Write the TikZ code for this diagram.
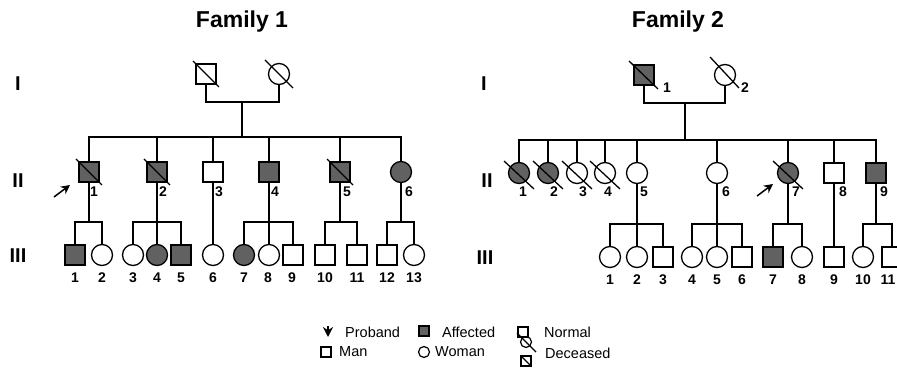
\documentclass[tikz,border=0pt]{standalone}
\usepackage{fontspec}
\setmainfont{Liberation Sans}
\usetikzlibrary{arrows.meta}
\begin{document}
\begin{tikzpicture}[x=1pt,y=-1pt,
  male/.style={draw,rectangle,minimum size=20pt,inner sep=0pt,line width=1.3pt},
  female/.style={draw,circle,minimum size=21pt,inner sep=0pt,line width=1.3pt},
  aff/.style={fill=black!62},
  ln/.style={line width=1.3pt},
  num/.style={font=\bfseries\fontsize{14}{14}\selectfont, inner sep=0pt},
  gen/.style={font=\bfseries\fontsize{20}{20}\selectfont, inner sep=0pt},
  ttl/.style={font=\bfseries\fontsize{23}{23}\selectfont, inner sep=0pt},
  leg/.style={font=\fontsize{14.5}{14.5}\selectfont, inner sep=0pt, anchor=west},
  pb/.style={-{Stealth[length=9pt,width=9pt]}, line width=1.5pt},
  lsym/.style={draw,rectangle,minimum size=10pt,inner sep=0pt,line width=1.2pt},
  lcirc/.style={draw,circle,minimum size=11pt,inner sep=0pt,line width=1.2pt}
]
\clip (0,0) rectangle (897,387);

% ---------- titles and generation labels
\node[ttl] (t1) at (242,22) {Family 1};
\node[ttl] (t2) at (678,22) {Family 2};
\node[gen] (g1a) at (18,84) {I};
\node[gen] (g1b) at (18,181) {II};
\node[gen] (g1c) at (18,256) {III};
\node[gen] (g2a) at (484,84) {I};
\node[gen] (g2b) at (487,181) {II};
\node[gen] (g2c) at (485,258) {III};

% ================= Family 1
\node[male] (A1) at (206,74) {};
\node[female] (A2) at (279,74) {};
\coordinate (c1) at (242,102);
\coordinate (s1) at (242,137);
\draw[ln] (A1.south) |- (c1);
\draw[ln] (A2.south) |- (c1);
\draw[ln] (c1) -- (s1);

\node[male,aff] (B1) at (89,172) {};
\node[male,aff] (B2) at (157,172) {};
\node[male] (B3) at (213,172) {};
\node[male,aff] (B4) at (269,172) {};
\node[male,aff] (B5) at (340,172) {};
\node[female,aff] (B6) at (401,172) {};
\foreach \n in {B1,B2,B3,B4,B5,B6} \draw[ln] (\n.north) |- (s1);

\node[male,aff] (C1) at (75,255) {};
\node[female] (C2) at (102,255) {};
\node[female] (C3) at (133,255) {};
\node[female,aff] (C4) at (157,255) {};
\node[male,aff] (C5) at (181,255) {};
\node[female] (C6) at (213,255) {};
\node[female,aff] (C7) at (244,255) {};
\node[female] (C8) at (269,255) {};
\node[male] (C9) at (293,255) {};
\node[male] (C10) at (325,255) {};
\node[male] (C11) at (357,255) {};
\node[male] (C12) at (387,255) {};
\node[female] (C13) at (414,255) {};

\coordinate (b1) at (89,222);
\coordinate (b2) at (157,222);
\coordinate (b4) at (269,222);
\coordinate (b5) at (340,222);
\coordinate (b6) at (401,222);
\draw[ln] (B1.south) -- (b1);
\draw[ln] (C1.north) |- (b1); \draw[ln] (C2.north) |- (b1);
\draw[ln] (B2.south) -- (b2);
\draw[ln] (C3.north) |- (b2); \draw[ln] (C4.north) -- (b2); \draw[ln] (C5.north) |- (b2);
\draw[ln] (B3.south) -- (C6.north);
\draw[ln] (B4.south) -- (b4);
\draw[ln] (C7.north) |- (b4); \draw[ln] (C8.north) -- (b4); \draw[ln] (C9.north) |- (b4);
\draw[ln] (B5.south) -- (b5);
\draw[ln] (C10.north) |- (b5); \draw[ln] (C11.north) |- (b5);
\draw[ln] (B6.south) -- (b6);
\draw[ln] (C12.north) |- (b6); \draw[ln] (C13.north) |- (b6);

% deceased slashes
\foreach \n in {A1,B1,B2,B5} \draw[ln] (\n) ++(-13,-13) -- ++(26,26);
\draw[ln] (A2) ++(-14,-14) -- ++(28,28);

% proband arrow
\coordinate (p1) at (54,197);
\draw[pb] (p1) -- ++(16,-12);

% numbers gen II
\node[num] (nB1) at (94,192) {1};
\node[num] (nB2) at (163,192) {2};
\node[num] (nB3) at (219,192) {3};
\node[num] (nB4) at (275,192) {4};
\node[num] (nB5) at (347,192) {5};
\node[num] (nB6) at (409,192) {6};
% numbers gen III
\foreach \n/\x in {1/75,2/102,3/133,4/157,5/181,6/213,7/244,8/268,9/292,10/325,11/357,12/387,13/414}
  \node[num] (nC\n) at (\x,278) {\n};

% ================= Family 2
\node[male,aff] (D1) at (644,75) {};
\node[female] (D2) at (725,75) {};
\coordinate (c2) at (685,103);
\coordinate (s2) at (685,140);
\draw[ln] (D1.south) |- (c2);
\draw[ln] (D2.south) |- (c2);
\draw[ln] (c2) -- (s2);
\draw[ln] (D1) ++(-15,-14) -- ++(29,28);
\draw[ln] (D2) ++(-15,-18) -- ++(29,31);
\node[num] (nD1) at (667,88) {1};
\node[num] (nD2) at (745,88) {2};

\node[female,aff] (E1) at (519,173) {};
\node[female,aff] (E2) at (548,173) {};
\node[female] (E3) at (577,173) {};
\node[female] (E4) at (605,173) {};
\node[female] (E5) at (637,173) {};
\node[female] (E6) at (717,173) {};
\node[female,aff] (E7) at (788,173) {};
\node[male] (E8) at (834,173) {};
\node[male,aff] (E9) at (876,173) {};
\foreach \n in {E1,E2,E3,E4,E5,E6,E7,E8,E9} \draw[ln] (\n.north) |- (s2);
\foreach \n in {E1,E2,E3,E4,E7} \draw[ln] (\n) ++(-15,-12) -- ++(30,28);

\node[female] (F1) at (610,257) {};
\node[female] (F2) at (637,257) {};
\node[male] (F3) at (663,257) {};
\node[female] (F4) at (692,257) {};
\node[female] (F5) at (717,257) {};
\node[male] (F6) at (742,257) {};
\node[male,aff] (F7) at (773,257) {};
\node[female] (F8) at (802,257) {};
\node[male] (F9) at (834,257) {};
\node[female] (F10) at (863,257) {};
\node[male] (F11) at (892,257) {};

\coordinate (e5) at (637,224);
\coordinate (e6) at (717,224);
\coordinate (e7) at (788,224);
\coordinate (e9) at (876,224);
\draw[ln] (E5.south) -- (e5);
\draw[ln] (F1.north) |- (e5); \draw[ln] (F2.north) -- (e5); \draw[ln] (F3.north) |- (e5);
\draw[ln] (E6.south) -- (e6);
\draw[ln] (F4.north) |- (e6); \draw[ln] (F5.north) -- (e6); \draw[ln] (F6.north) |- (e6);
\draw[ln] (E7.south) -- (e7);
\draw[ln] (F7.north) |- (e7); \draw[ln] (F8.north) |- (e7);
\draw[ln] (E8.south) -- (F9.north);
\draw[ln] (E9.south) -- (e9);
\draw[ln] (F10.north) |- (e9); \draw[ln] (F11.north) |- (e9);

\coordinate (p2) at (757,196);
\draw[pb] (p2) -- ++(16,-12);

\foreach \n/\x in {1/523,2/554,3/583,4/608,5/644,6/726,7/796,8/843,9/884}
  \node[num] (nE\n) at (\x,192) {\n};
\foreach \n/\x in {1/610,2/637,3/663,4/692,5/717,6/742,7/773,8/802,9/834,10/863,11/888}
  \node[num] (nF\n) at (\x,280) {\n};

% ================= Legend
\coordinate (lp) at (328,326);
\draw[-{Stealth[length=10pt,width=10pt]}, line width=1.5pt] (lp) -- ++(0,11);
\node[leg] (lt1) at (345,332) {Proband};
\node[lsym,aff] (la) at (424,331) {};
\node[leg] (lt2) at (442,332) {Affected};
\node[lsym] (ln1) at (523,332) {};
\node[leg] (lt3) at (544,332) {Normal};
\node[lsym] (lm) at (326,352) {};
\node[leg] (lt4) at (339,352) {Man};
\node[lcirc] (lw) at (424,352) {};
\node[leg] (lt5) at (435,352) {Woman};
\node[lcirc] (ld1) at (526,342) {};
\draw[line width=1.2pt] (ld1) ++(-9,-9) -- ++(19,19);
\node[lsym] (ld2) at (526,361) {};
\draw[line width=1.2pt] (ld2.north west) -- (ld2.south east);
\node[leg] (lt6) at (545,353) {Deceased};
\end{tikzpicture}
\end{document}
